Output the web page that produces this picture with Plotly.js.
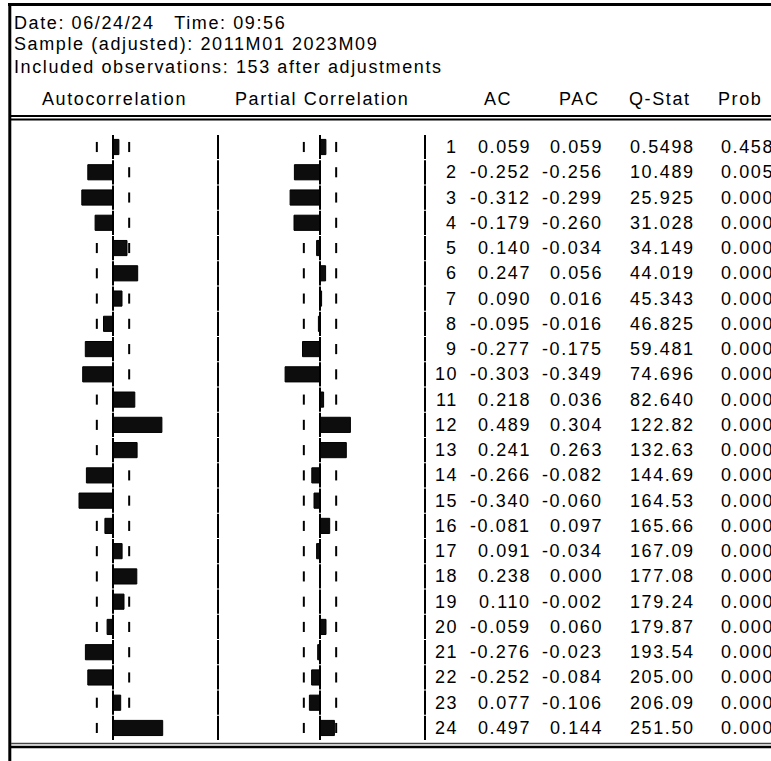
<!DOCTYPE html>
<html>
<head>
<meta charset="utf-8">
<script src="https://cdn.plot.ly/plotly-3.0.1.min.js"></script>
<style>
html,body{margin:0;padding:0;background:#fff;}
#chart{width:771px;height:761px;}
text.annotation-text{letter-spacing:1.6px;}
</style>
</head>
<body>
<div id="chart"></div>
<script>
// ---- data ----
const lags = [1,2,3,4,5,6,7,8,9,10,11,12,13,14,15,16,17,18,19,20,21,22,23,24];
const ac = [0.059,-0.252,-0.312,-0.179,0.140,0.247,0.090,-0.095,-0.277,-0.303,0.218,0.489,0.241,-0.266,-0.340,-0.081,0.091,0.238,0.110,-0.059,-0.276,-0.252,0.077,0.497];
const pac = [0.059,-0.256,-0.299,-0.260,-0.034,0.056,0.016,-0.016,-0.175,-0.349,0.036,0.304,0.263,-0.082,-0.060,0.097,-0.034,0.000,-0.002,0.060,-0.023,-0.084,-0.106,0.144];
const qstat = [0.5498,10.489,25.925,31.028,34.149,44.019,45.343,46.825,59.481,74.696,82.640,122.82,132.63,144.69,164.53,165.66,167.09,177.08,179.24,179.87,193.54,205.00,206.09,251.50];
const prob = [0.458,0.005,0.000,0.000,0.000,0.000,0.000,0.000,0.000,0.000,0.000,0.000,0.000,0.000,0.000,0.000,0.000,0.000,0.000,0.000,0.000,0.000,0.000,0.000];
const headerLines = ["Date: 06/24/24\u00a0\u00a0\u00a0Time: 09:56","Sample (adjusted): 2011M01 2023M09","Included observations: 153 after adjustments"];
const colHeaders = ["Autocorrelation","Partial Correlation","AC","PAC","Q-Stat","Prob"];
const nobs = 153;

// ---- geometry (pixels) ----
const W = 771, H = 761;
const FONT = {family: "Arial, 'Liberation Sans', sans-serif", size: 18, color: "#000"};
const LS = 1.6;
const pxPerUnit = 100;
const acZero = 113, pacZero = 320;
const sep1 = 218, sep2 = 425;
const row1 = 147, rowH = 25.26;
const yTop = 1 - row1/rowH, yBot = 1 + (H-row1)/rowH;
const px = v => v / W;        // x paper
const py = v => 1 - v / H;    // y paper

const bound = 2/Math.sqrt(nobs);
const traces = [];
function addSegs(xFn, half, axis, width){
  const xs=[], ys=[];
  lags.forEach((l,i)=>{
    const xv = xFn(i);
    if (xv === null) return;
    xs.push(xv,xv,null); ys.push(l-half,l+half,null);
  });
  traces.push({type:'scatter', mode:'lines', x:xs, y:ys, xaxis:axis, yaxis:'y',
    line:{color:'#000', width:width}, hoverinfo:'skip', showlegend:false});
}
// bars
traces.push({type:'bar', orientation:'h', x:ac, y:lags, xaxis:'x', yaxis:'y', width:0.6,
  marker:{color:'#0d0d0d', line:{color:'#000', width:1}}, hoverinfo:'skip', showlegend:false});
traces.push({type:'bar', orientation:'h', x:pac, y:lags, xaxis:'x2', yaxis:'y', width:0.6,
  marker:{color:'#0d0d0d', line:{color:'#000', width:1}}, hoverinfo:'skip', showlegend:false});
// zero lines
addSegs(()=>0, 0.48, 'x', 2);
addSegs(()=>0, 0.48, 'x2', 2);
// +/- 2 s.e. bounds (hidden where the bar covers them)
[[ac,'x'],[pac,'x2']].forEach(([vals,axis])=>{
  [-1,1].forEach(s=>{
    addSegs(i => (s*vals[i] >= bound ? null : s*bound), 0.2, axis, 2);
  });
});
// column separators
addSegs(()=>(sep1-acZero)/pxPerUnit, 0.48, 'x', 2);
addSegs(()=>(sep2-acZero)/pxPerUnit, 0.48, 'x', 2);

const ann = [];
const hdrY = [23, 44, 66.5];
headerLines.forEach((t,i)=>{
  ann.push({text:t, xref:'paper', yref:'paper', x:px(12), y:py(hdrY[i]), xanchor:'left', yanchor:'middle', showarrow:false, font:FONT});
});
const hdrX = [114, 321, 497, 578, 659, 739];
colHeaders.forEach((t,i)=>{
  ann.push({text:t, xref:'paper', yref:'paper', x:px(hdrX[i]+LS/2), y:py(99), xanchor:'center', yanchor:'middle', showarrow:false, font:FONT});
});
const fmtQ = v => v < 1 ? v.toFixed(4) : (v < 100 ? v.toFixed(3) : v.toFixed(2));
const colRight = [458, 531, 603, 695, 774];
lags.forEach((l,i)=>{
  const vals = [String(l), ac[i].toFixed(3), pac[i].toFixed(3), fmtQ(qstat[i]), prob[i].toFixed(3)];
  vals.forEach((t,j)=>{
    ann.push({text:t, xref:'paper', yref:'y', x:px(colRight[j]+LS), y:l, xanchor:'right', yanchor:'middle', showarrow:false, font:FONT});
  });
});

const shapes = [
  {type:'line', xref:'paper', yref:'paper', x0:px(8), x1:px(771), y0:py(4.5), y1:py(4.5), line:{color:'#000', width:3}},
  {type:'line', xref:'paper', yref:'paper', x0:px(9.8), x1:px(9.8), y0:py(3), y1:py(761), line:{color:'#000', width:3}},
  {type:'line', xref:'paper', yref:'paper', x0:px(11), x1:px(771), y0:py(116), y1:py(116), line:{color:'#000', width:2}},
  {type:'line', xref:'paper', yref:'paper', x0:px(11), x1:px(771), y0:py(119.5), y1:py(119.5), line:{color:'#000', width:2}},
  {type:'line', xref:'paper', yref:'paper', x0:px(11), x1:px(771), y0:py(743.5), y1:py(743.5), line:{color:'#444', width:1.5}},
  {type:'line', xref:'paper', yref:'paper', x0:px(11), x1:px(771), y0:py(747), y1:py(747), line:{color:'#000', width:2.5}}
];

const layout = {
  width: W, height: H,
  margin: {l:0, r:0, t:0, b:0, pad:0},
  paper_bgcolor:'#fff', plot_bgcolor:'#fff',
  showlegend:false, barmode:'overlay', bargap:0,
  xaxis: {range:[-acZero/pxPerUnit, (W-acZero)/pxPerUnit], visible:false, fixedrange:true},
  xaxis2: {range:[-pacZero/pxPerUnit, (W-pacZero)/pxPerUnit], overlaying:'x', visible:false, fixedrange:true},
  yaxis: {range:[yBot, yTop], visible:false, fixedrange:true},
  annotations: ann,
  shapes: shapes
};
Plotly.newPlot('chart', traces, layout, {staticPlot:true, displayModeBar:false});
</script>
</body>
</html>
